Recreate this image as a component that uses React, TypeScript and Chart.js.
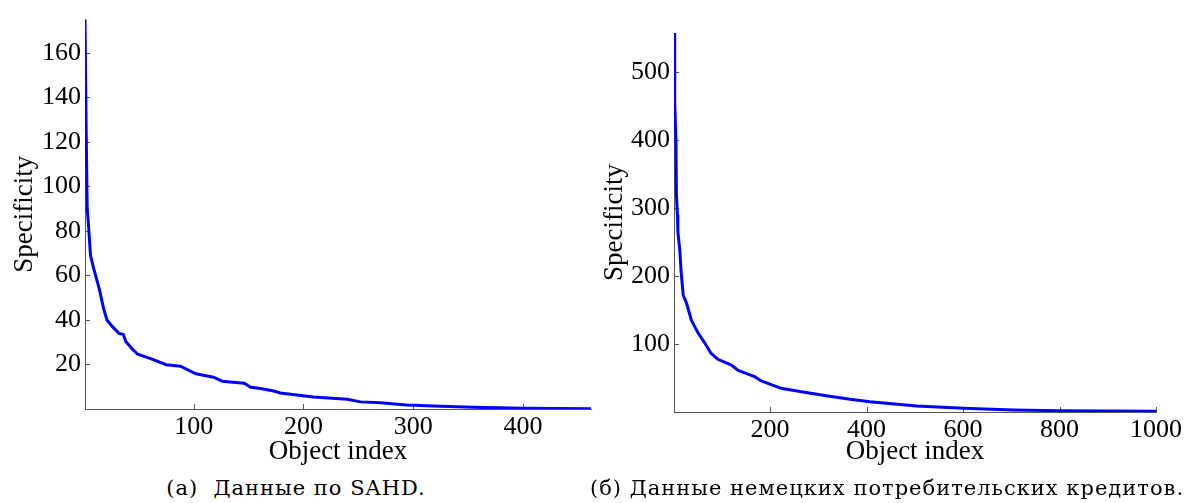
import React, { useEffect, useRef } from 'react';
import { Chart, registerables } from 'chart.js';

Chart.register(...registerables);

// SAHD: sorted specificity per object
const sahdIndex = [1, 2, 3, 4, 6, 9, 14, 18, 21, 26, 32, 36, 38, 44, 49, 62, 75, 88, 102, 118, 126, 146, 152, 161, 173, 179, 209, 240, 252, 270, 294, 325, 355, 400, 462];
const sahdSpecificity = [175, 128, 90, 84, 69, 63, 54, 45, 40, 37, 34, 33.5, 30.5, 27, 24.6, 22.4, 19.9, 19.2, 15.8, 14.3, 12.5, 11.6, 9.8, 9.2, 8.1, 7.2, 5.4, 4.4, 3.2, 2.8, 1.8, 1.2, 0.75, 0.3, 0.1];
const sahdXTicks = [100, 200, 300, 400];
const sahdYTicks = [20, 40, 60, 80, 100, 120, 140, 160];

// German consumer credit: sorted specificity per object
const creditIndex = [1, 2, 3, 5, 6, 8, 9, 13, 16, 20, 27, 37, 51, 65, 78, 92, 120, 134, 168, 182, 223, 265, 320, 366, 407, 504, 601, 704, 801, 1000];
const creditSpecificity = [557, 505, 455, 400, 320, 290, 265, 238, 204, 172, 160, 135, 116, 101, 86, 77.5, 69, 61, 52, 45.6, 34.8, 29.9, 23.5, 18.7, 15.2, 8.8, 5.4, 2.9, 1.9, 1.0];
const creditXTicks = [200, 400, 600, 800, 1000];
const creditYTicks = [100, 200, 300, 400, 500];

const AXIS_COLOR = '#555555';
const FONT_FAMILY = '"Liberation Serif", "Times New Roman", serif';

// Short tick marks drawn on the inside of the axes
const inwardTicks = {
  id: 'inwardTicks',
  beforeDatasetsDraw(chart: any) {
    const { ctx, chartArea, scales } = chart;
    const len = 5;
    ctx.save();
    ctx.strokeStyle = AXIS_COLOR;
    ctx.lineWidth = 1;
    ctx.beginPath();
    scales.x.ticks.forEach((t: any) => {
      const px = Math.round(scales.x.getPixelForValue(t.value)) + 0.5;
      ctx.moveTo(px, chartArea.bottom);
      ctx.lineTo(px, chartArea.bottom - len);
    });
    scales.y.ticks.forEach((t: any) => {
      const py = Math.round(scales.y.getPixelForValue(t.value)) + 0.5;
      ctx.moveTo(chartArea.left, py);
      ctx.lineTo(chartArea.left + len, py);
    });
    ctx.stroke();
    ctx.restore();
  },
};

type PanelProps = {
  left: number;
  width: number;
  height: number;
  index: number[];
  values: number[];
  xTicks: number[];
  yTicks: number[];
  xMax: number;
  yMax: number;
  yAxisWidth: number;
  xAxisHeight: number;
  padTop: number;
  padRight: number;
};

function Panel(p: PanelProps) {
  const ref = useRef<HTMLCanvasElement>(null);

  useEffect(() => {
    if (!ref.current) return;
    const points = p.index.map((x, i) => ({ x, y: p.values[i] }));
    const tickFont = { family: FONT_FAMILY, size: 26 };
    const titleFont = { family: FONT_FAMILY, size: 27, lineHeight: 1.2 };
    const chart = new Chart(ref.current, {
      type: 'line',
      data: {
        datasets: [
          {
            data: points,
            borderColor: '#0000ff',
            borderWidth: 3,
            pointRadius: 0,
            tension: 0,
            fill: false,
          },
        ],
      },
      options: {
        animation: false,
        responsive: false,
        parsing: false,
        events: [],
        layout: { padding: { top: p.padTop, right: p.padRight, left: 0, bottom: 0 } },
        plugins: { legend: { display: false }, tooltip: { enabled: false } },
        scales: {
          x: {
            type: 'linear',
            min: 1,
            max: p.xMax,
            grid: { display: false, drawTicks: false },
            border: { display: true, color: AXIS_COLOR, width: 1 },
            afterBuildTicks: (s: any) => {
              s.ticks = p.xTicks.map((v) => ({ value: v }));
            },
            afterFit: (s: any) => {
              s.height = p.xAxisHeight;
            },
            ticks: {
              autoSkip: false,
              maxRotation: 0,
              padding: 3,
              color: '#000',
              font: tickFont,
              callback: (v: any) => String(v),
            },
            title: {
              display: true,
              text: 'Object index',
              color: '#000',
              font: titleFont,
              padding: { top: 0, bottom: 2 },
            },
          },
          y: {
            type: 'linear',
            min: 0,
            max: p.yMax,
            grid: { display: false, drawTicks: false },
            border: { display: true, color: AXIS_COLOR, width: 1 },
            afterBuildTicks: (s: any) => {
              s.ticks = p.yTicks.map((v) => ({ value: v }));
            },
            afterFit: (s: any) => {
              s.width = p.yAxisWidth;
            },
            ticks: {
              autoSkip: false,
              padding: 4,
              color: '#000',
              font: tickFont,
              callback: (v: any) => String(v),
            },
            title: {
              display: true,
              text: 'Specificity',
              color: '#000',
              font: titleFont,
              padding: { top: 9, bottom: 0 },
            },
          },
        },
      },
      plugins: [inwardTicks],
    });
    return () => chart.destroy();
  }, []);

  return (
    <canvas
      ref={ref}
      width={p.width}
      height={p.height}
      style={{ position: 'absolute', left: p.left, top: 0, width: p.width, height: p.height }}
    />
  );
}

const captionStyle: React.CSSProperties = {
  position: 'absolute',
  top: 474,
  transform: 'translateX(-50%)',
  whiteSpace: 'pre',
  fontFamily: '"DejaVu Serif", serif',
  fontSize: 21,
  letterSpacing: '1px',
  lineHeight: '28px',
  color: '#000',
};

export default function App() {
  return (
    <div style={{ position: 'absolute', left: 0, top: 0, width: 1185, height: 503, background: '#fff', overflow: 'hidden' }}>
      <Panel
        left={0}
        width={600}
        height={470}
        index={sahdIndex}
        values={sahdSpecificity}
        xTicks={sahdXTicks}
        yTicks={sahdYTicks}
        xMax={462}
        yMax={175}
        yAxisWidth={85}
        xAxisHeight={61}
        padTop={13}
        padRight={9}
      />
      <Panel
        left={590}
        width={595}
        height={470}
        index={creditIndex}
        values={creditSpecificity}
        xTicks={creditXTicks}
        yTicks={creditYTicks}
        xMax={1000}
        yMax={557}
        yAxisWidth={84}
        xAxisHeight={58}
        padTop={33}
        padRight={29}
      />
      <div style={{ ...captionStyle, left: 296 }}>{'(a)  Данные по SAHD.'}</div>
      <div style={{ ...captionStyle, left: 887 }}>{'(б) Данные немецких потребительских кредитов.'}</div>
    </div>
  );
}
